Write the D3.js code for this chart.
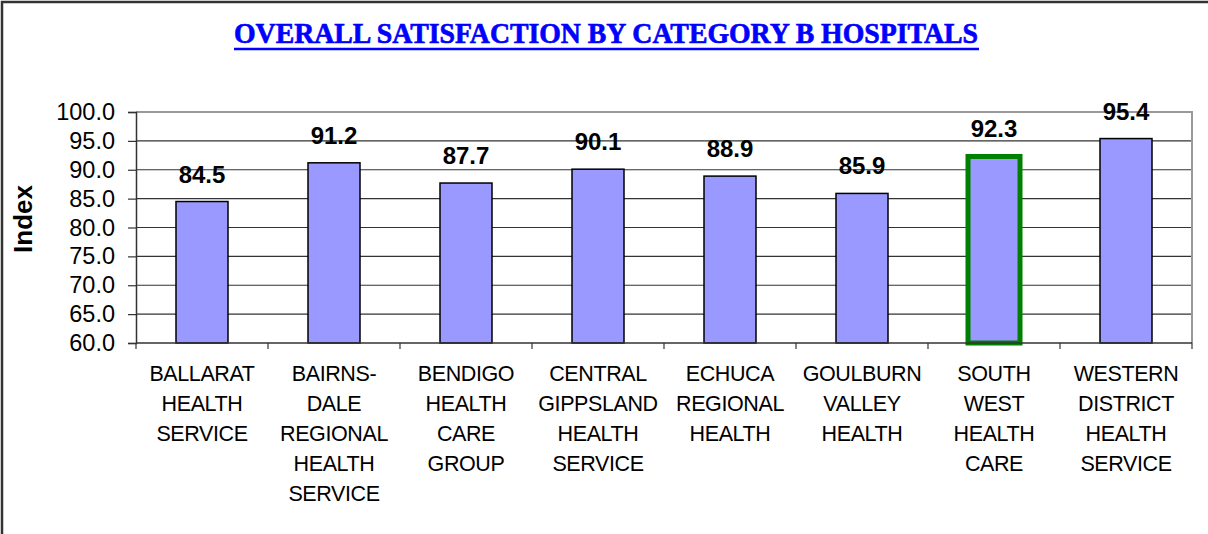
<!DOCTYPE html>
<html>
<head>
<meta charset="utf-8">
<script src="https://cdn.jsdelivr.net/npm/d3@7"></script>
<style>
  body { margin: 0; background: #fff; }
  svg { display: block; }
</style>
</head>
<body>
<svg width="1208" height="534"></svg>
<script>
const HOSPITALS = [
  ["BALLARAT", "HEALTH", "SERVICE"],
  ["BAIRNS-", "DALE", "REGIONAL", "HEALTH", "SERVICE"],
  ["BENDIGO", "HEALTH", "CARE", "GROUP"],
  ["CENTRAL", "GIPPSLAND", "HEALTH", "SERVICE"],
  ["ECHUCA", "REGIONAL", "HEALTH"],
  ["GOULBURN", "VALLEY", "HEALTH"],
  ["SOUTH", "WEST", "HEALTH", "CARE"],
  ["WESTERN", "DISTRICT", "HEALTH", "SERVICE"]
];
const SCORES = [84.5, 91.2, 87.7, 90.1, 88.9, 85.9, 92.3, 95.4];
const Y_TICKS = [60, 65, 70, 75, 80, 85, 90, 95, 100];
const HIGHLIGHT = 6; // south west is outlined green
const TITLE = "OVERALL SATISFACTION BY CATEGORY B HOSPITALS";

const PLOT = { left: 136, right: 1192, top: 112, bottom: 343 };
const svg = d3.select("svg");

// outer frame (only left and top show in the picture)
svg.append("rect")
  .attr("x", 2).attr("y", 2)
  .attr("width", 1240).attr("height", 560)
  .attr("fill", "none")
  .attr("stroke", "#333")
  .attr("stroke-width", 2.5);

const x = d3.scaleBand()
  .domain(d3.range(HOSPITALS.length))
  .range([PLOT.left, PLOT.right]);

const y = d3.scaleLinear()
  .domain([60, 100])
  .range([PLOT.bottom, PLOT.top]);

// title
svg.append("text")
  .attr("x", 606).attr("y", 43)
  .attr("text-anchor", "middle")
  .attr("font-family", "'Liberation Serif', 'Times New Roman', serif")
  .attr("font-weight", "bold")
  .attr("font-size", 30)
  .attr("fill", "#0000ff")
  .attr("stroke", "#0000ff")
  .attr("stroke-width", 0.7)
  .attr("textLength", 744)
  .attr("lengthAdjust", "spacingAndGlyphs")
  .text(TITLE);
svg.append("line")
  .attr("x1", 234).attr("x2", 979)
  .attr("y1", 49).attr("y2", 49)
  .attr("stroke", "#0000ff")
  .attr("stroke-width", 2.5);

// gridlines
svg.append("g")
  .selectAll("line")
  .data(Y_TICKS.filter(d => d > 60 && d < 100))
  .join("line")
  .attr("x1", PLOT.left).attr("x2", PLOT.right)
  .attr("y1", d => y(d)).attr("y2", d => y(d))
  .attr("stroke", "#333")
  .attr("stroke-width", 1.2);

// plot area border top/right in gray
svg.append("path")
  .attr("d", `M${PLOT.left},${y(100)}H${PLOT.right}V${PLOT.bottom}`)
  .attr("fill", "none")
  .attr("stroke", "#999")
  .attr("stroke-width", 2);

// bars
svg.append("g")
  .selectAll("rect")
  .data(SCORES)
  .join("rect")
  .attr("x", (d, i) => x(i) + x.bandwidth() / 2 - 26)
  .attr("width", 52)
  .attr("y", d => y(d))
  .attr("height", d => y(60) - y(d))
  .attr("fill", "#9999ff")
  .attr("stroke", (d, i) => i === HIGHLIGHT ? "#008000" : "#000")
  .attr("stroke-width", (d, i) => i === HIGHLIGHT ? 5 : 1.5);

// value labels
svg.append("g")
  .selectAll("text")
  .data(SCORES)
  .join("text")
  .attr("x", (d, i) => x(i) + x.bandwidth() / 2)
  .attr("y", d => y(d) - 19)
  .attr("text-anchor", "middle")
  .attr("font-family", "Arial, 'Liberation Sans', sans-serif")
  .attr("font-weight", "bold")
  .attr("font-size", 24)
  .attr("fill", "#000")
  .text(d => d.toFixed(1));

// y axis
const yAxis = svg.append("g")
  .attr("transform", `translate(${PLOT.left},0)`)
  .call(d3.axisLeft(y).tickValues(Y_TICKS).tickFormat(d3.format(".1f")).tickSize(8).tickPadding(13));
yAxis.select(".domain").attr("stroke", "#333").attr("stroke-width", 1.5);
yAxis.selectAll(".tick line").attr("stroke", "#333").attr("stroke-width", 1.2);
yAxis.selectAll("text")
  .attr("font-family", "Arial, 'Liberation Sans', sans-serif")
  .attr("font-size", 23.5)
  .attr("fill", "#000");

// x axis line + ticks at category boundaries
svg.append("line")
  .attr("x1", PLOT.left).attr("x2", PLOT.right)
  .attr("y1", PLOT.bottom).attr("y2", PLOT.bottom)
  .attr("stroke", "#333").attr("stroke-width", 1.5);
svg.append("g")
  .selectAll("line")
  .data(d3.range(HOSPITALS.length + 1))
  .join("line")
  .attr("x1", i => PLOT.left + i * x.step())
  .attr("x2", i => PLOT.left + i * x.step())
  .attr("y1", PLOT.bottom).attr("y2", PLOT.bottom + 6)
  .attr("stroke", "#333").attr("stroke-width", 1.2);

// category labels
const cats = svg.append("g")
  .selectAll("text")
  .data(HOSPITALS)
  .join("text")
  .attr("x", (d, i) => x(i) + x.bandwidth() / 2)
  .attr("y", 381)
  .attr("text-anchor", "middle")
  .attr("font-family", "Arial, 'Liberation Sans', sans-serif")
  .attr("font-size", 21.5)
  .attr("letter-spacing", -0.4)
  .attr("fill", "#000");
cats.selectAll("tspan")
  .data(d => d)
  .join("tspan")
  .attr("x", function () { return d3.select(this.parentNode).attr("x"); })
  .attr("dy", (d, i) => i === 0 ? 0 : 30)
  .text(d => d);

// y axis title
svg.append("text")
  .attr("transform", "translate(32,219) rotate(-90)")
  .attr("text-anchor", "middle")
  .attr("font-family", "Arial, 'Liberation Sans', sans-serif")
  .attr("font-weight", "bold")
  .attr("font-size", 26)
  .attr("fill", "#000")
  .text("Index");
</script>
</body>
</html>
